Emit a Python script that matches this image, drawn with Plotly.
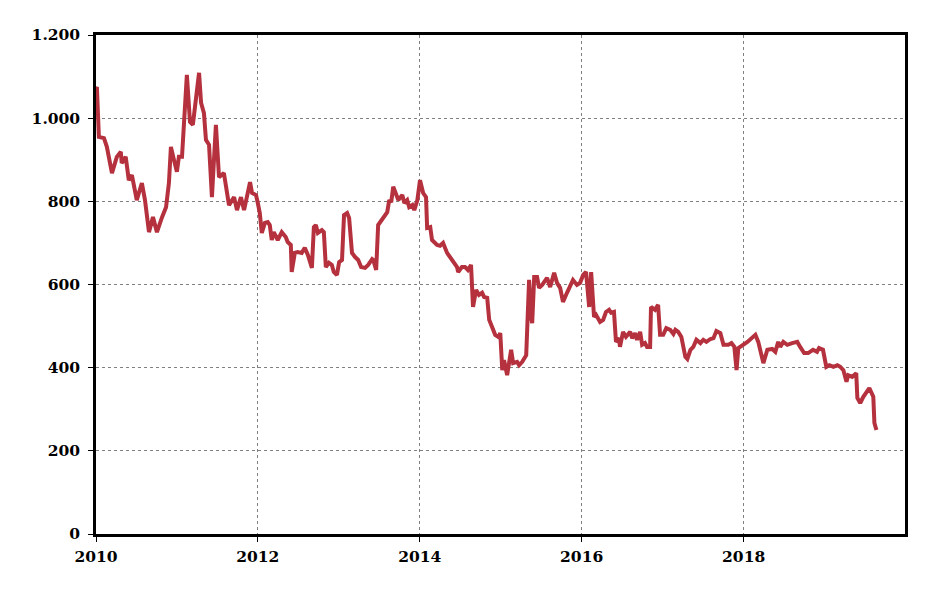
import pandas as pd
import plotly.graph_objects as go

dates = [
    "2010-01-01", "2010-01-05", "2010-01-14", "2010-02-06", "2010-02-19", "2010-03-09", "2010-03-14",
    "2010-04-05", "2010-04-23", "2010-04-27", "2010-05-15", "2010-05-29", "2010-06-12", "2010-07-04",
    "2010-07-27", "2010-08-10", "2010-08-28", "2010-09-15", "2010-10-03", "2010-10-26", "2010-11-13",
    "2010-11-26", "2010-12-05", "2010-12-19", "2011-01-01", "2011-01-10", "2011-01-24", "2011-02-15",
    "2011-03-01", "2011-03-14", "2011-04-11", "2011-04-20", "2011-05-03", "2011-05-12", "2011-05-26",
    "2011-06-08", "2011-06-26", "2011-07-10", "2011-08-01", "2011-08-24", "2011-09-16", "2011-09-29",
    "2011-10-17", "2011-10-31", "2011-11-27", "2011-12-06", "2011-12-24", "2012-01-01", "2012-01-10",
    "2012-01-19", "2012-02-02", "2012-02-15", "2012-02-24", "2012-03-04", "2012-03-13", "2012-03-31",
    "2012-04-18", "2012-05-06", "2012-05-15", "2012-05-29", "2012-06-02", "2012-06-16", "2012-06-29",
    "2012-07-17", "2012-07-31", "2012-08-14", "2012-09-01", "2012-09-10", "2012-09-19", "2012-09-28",
    "2012-10-16", "2012-10-25", "2012-11-03", "2012-11-17", "2012-11-30", "2012-12-09", "2012-12-23",
    "2013-01-02", "2013-01-15", "2013-01-24", "2013-02-07", "2013-02-16", "2013-03-01", "2013-03-15",
    "2013-03-29", "2013-04-11", "2013-04-29", "2013-05-13", "2013-05-31", "2013-06-05", "2013-06-18",
    "2013-06-27", "2013-07-11", "2013-07-20", "2013-08-07", "2013-08-16", "2013-08-25", "2013-09-03",
    "2013-09-17", "2013-09-26", "2013-10-14", "2013-10-23", "2013-11-05", "2013-11-14", "2013-11-28",
    "2013-12-07", "2013-12-21", "2014-01-02", "2014-01-16", "2014-01-29", "2014-02-03", "2014-02-17",
    "2014-02-25", "2014-03-20", "2014-04-02", "2014-04-16", "2014-05-04", "2014-05-17", "2014-05-31",
    "2014-06-18", "2014-06-23", "2014-07-10", "2014-07-24", "2014-08-06", "2014-08-20", "2014-08-29",
    "2014-09-12", "2014-09-25", "2014-10-09", "2014-10-18", "2014-11-01", "2014-11-10", "2014-11-23",
    "2014-12-07", "2014-12-21", "2014-12-30", "2015-01-08", "2015-01-16", "2015-01-30", "2015-02-17",
    "2015-02-26", "2015-03-16", "2015-03-25", "2015-04-08", "2015-04-26", "2015-05-05", "2015-05-09",
    "2015-05-18", "2015-05-23", "2015-06-01", "2015-06-14", "2015-06-23", "2015-07-07", "2015-07-29",
    "2015-08-12", "2015-08-30", "2015-09-12", "2015-09-26", "2015-10-09", "2015-10-27", "2015-11-14",
    "2015-11-23", "2015-12-11", "2015-12-25", "2016-01-08", "2016-01-21", "2016-02-04", "2016-02-13",
    "2016-02-26", "2016-03-06", "2016-03-24", "2016-04-07", "2016-04-20", "2016-05-04", "2016-05-13",
    "2016-05-26", "2016-06-04", "2016-06-18", "2016-06-22", "2016-07-06", "2016-07-19", "2016-08-07",
    "2016-08-16", "2016-08-29", "2016-09-07", "2016-09-21", "2016-09-30", "2016-10-13", "2016-10-22",
    "2016-11-05", "2016-11-09", "2016-11-27", "2016-12-11", "2016-12-20", "2017-01-03", "2017-01-17",
    "2017-02-04", "2017-02-18", "2017-02-27", "2017-03-12", "2017-03-26", "2017-04-13", "2017-04-22",
    "2017-05-06", "2017-05-19", "2017-06-02", "2017-06-20", "2017-07-03", "2017-07-17", "2017-08-04",
    "2017-08-18", "2017-08-31", "2017-09-18", "2017-10-02", "2017-10-24", "2017-11-07", "2017-11-20",
    "2017-11-30", "2017-12-08", "2017-12-31", "2018-01-18", "2018-02-23", "2018-03-08", "2018-03-31",
    "2018-04-18", "2018-05-10", "2018-05-24", "2018-06-06", "2018-06-15", "2018-06-29", "2018-07-17",
    "2018-08-08", "2018-08-31", "2018-09-13", "2018-10-01", "2018-10-19", "2018-11-10", "2018-11-28",
    "2018-12-07", "2018-12-25", "2019-01-09", "2019-01-23", "2019-02-10", "2019-02-28", "2019-03-13",
    "2019-03-27", "2019-04-10", "2019-04-18", "2019-05-06", "2019-05-15", "2019-05-24", "2019-05-29",
    "2019-06-11", "2019-06-25", "2019-07-13", "2019-07-22", "2019-08-09", "2019-08-14", "2019-08-23",
]

prices = [
    1070, 1075, 955, 952, 931, 875, 868,
    907, 919, 892, 907, 851, 863, 803,
    844, 803, 726, 762, 726, 762, 786,
    844, 931, 899, 871, 907, 907, 1104,
    991, 984, 1109, 1037, 1012, 948, 936,
    810, 984, 858, 868, 791, 810, 779,
    810, 779, 846, 820, 815, 796, 772,
    724, 748, 750, 743, 707, 726, 707,
    726, 714, 702, 695, 630, 676, 678,
    676, 688, 671, 640, 738, 743, 724,
    731, 726, 642, 652, 647, 630, 623,
    654, 659, 767, 772, 760, 676, 666,
    659, 642, 640, 647, 661, 659, 635,
    743, 755, 762, 774, 803, 798, 835,
    815, 803, 815, 796, 803, 786, 791,
    779, 803, 851, 820, 810, 736, 738,
    707, 695, 693, 700, 676, 666, 652,
    642, 630, 642, 642, 635, 647, 546,
    587, 575, 580, 570, 568, 515, 498,
    479, 474, 483, 394, 418, 382, 443,
    411, 414, 406, 414, 430, 556, 611,
    522, 507, 618, 618, 592, 599, 616,
    594, 628, 604, 592, 558, 580, 599,
    611, 599, 604, 623, 630, 546, 630,
    522, 527, 510, 515, 534, 539, 532,
    534, 462, 471, 450, 486, 474, 486,
    471, 483, 467, 486, 455, 459, 450,
    450, 546, 539, 551, 479, 479, 495,
    491, 481, 491, 486, 474, 426, 421,
    443, 450, 467, 459, 467, 462, 469,
    471, 488, 483, 455, 455, 459, 450,
    394, 447, 455, 462, 479, 462, 411,
    443, 445, 438, 462, 450, 462, 455,
    459, 462, 450, 435, 435, 443, 438,
    447, 443, 402, 406, 402, 406, 402,
    394, 366, 382, 378, 382, 387, 327,
    315, 330, 346, 351, 330, 267, 250,
]

x = pd.to_datetime(dates)

FONT = dict(family="DejaVu Serif", size=15.5, color="black", weight="bold")

fig = go.Figure()
fig.add_trace(go.Scatter(
    x=x, y=prices, mode="lines",
    line=dict(color="#b5313e", width=4),
    showlegend=False,
))

fig.update_layout(
    width=950, height=591,
    margin=dict(l=88, r=53, t=27, b=65),
    paper_bgcolor="white", plot_bgcolor="white",
    separators=",.",
    font=FONT,
)
fig.update_xaxes(
    type="date",
    range=["2010-01-01", "2019-12-30"],
    tick0="2010-01-01", dtick="M24", tickformat="%Y",
    showline=True, linecolor="black", linewidth=2.5, mirror=True,
    ticks="outside", ticklen=5, tickcolor="black", tickwidth=1,
    ticklabelstandoff=2,
    showgrid=True, gridcolor="#808080", griddash="dot", gridwidth=1,
    tickfont=FONT, zeroline=False, automargin=False,
)
fig.update_yaxes(
    range=[0, 1200], dtick=200, tickformat=",d",
    showline=True, linecolor="black", linewidth=2.5, mirror=True,
    ticks="outside", ticklen=5, tickcolor="black", tickwidth=1,
    ticklabelstandoff=5,
    showgrid=True, gridcolor="#808080", griddash="dot", gridwidth=1,
    tickfont=FONT, zeroline=False, automargin=False,
)

fig.write_html("out.html")
